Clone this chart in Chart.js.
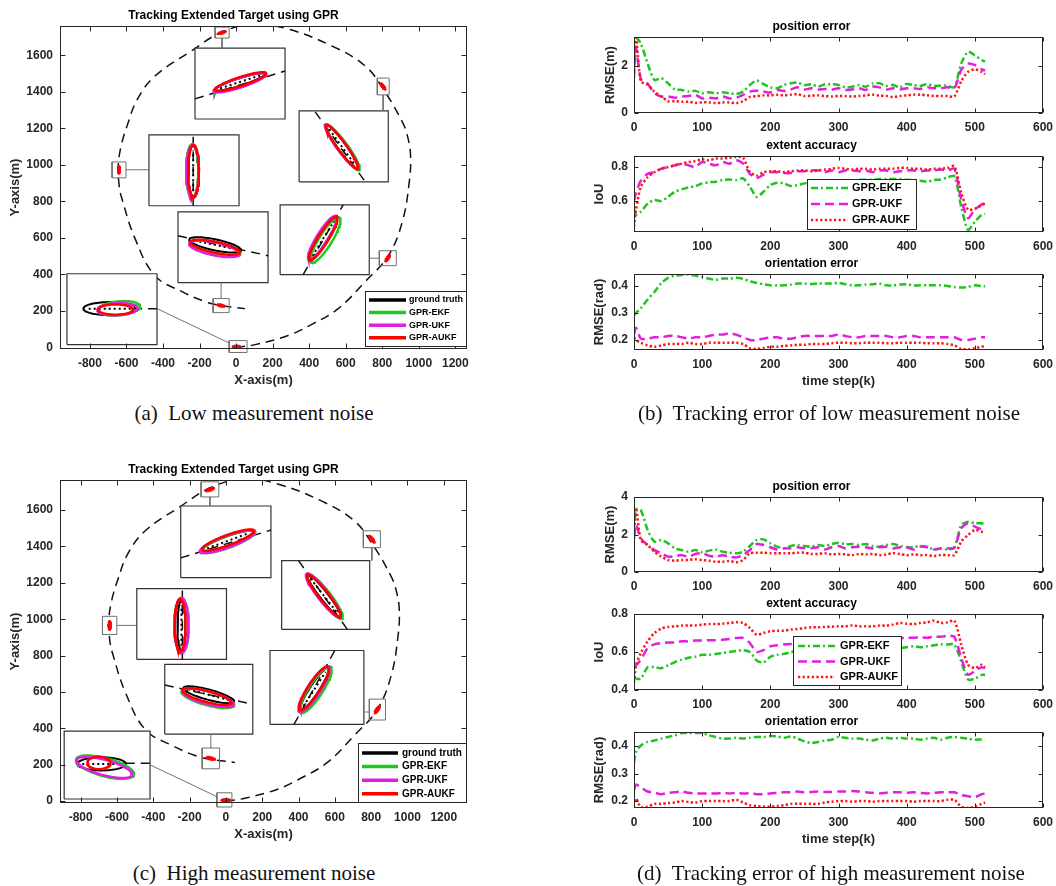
<!DOCTYPE html>
<html>
<head>
<meta charset="utf-8">
<script src="https://cdn.jsdelivr.net/npm/chart.js@4.4.0/dist/chart.umd.min.js"></script>
<style>
  body { margin: 0; background: #fff; width: 1056px; height: 886px; position: relative; overflow: hidden; }
  canvas { position: absolute; }
  .cap { position: absolute; font-family: "Liberation Serif", "Times New Roman", serif; font-size: 21px; line-height: 24px;
         color: #111; white-space: pre; transform: translateX(-50%); }
</style>
</head>
<body>
<canvas id="trackLow"  style="left:0px;top:0px"   width="480" height="396"></canvas>
<canvas id="trackHigh" style="left:0px;top:454px" width="480" height="396"></canvas>

<canvas id="lowPos"    style="left:580px;top:12px"  width="476" height="125"></canvas>
<canvas id="lowIou"    style="left:580px;top:131px" width="476" height="125"></canvas>
<canvas id="lowOri"    style="left:580px;top:249px" width="476" height="148"></canvas>
<canvas id="highPos"   style="left:580px;top:472px" width="476" height="124"></canvas>
<canvas id="highIou"   style="left:580px;top:589px" width="476" height="125"></canvas>
<canvas id="highOri"   style="left:580px;top:707px" width="476" height="148"></canvas>

<div class="cap" style="left:254px;top:401px">(a)  Low measurement noise</div>
<div class="cap" style="left:829px;top:401px">(b)  Tracking error of low measurement noise</div>
<div class="cap" style="left:254px;top:861px">(c)  High measurement noise</div>
<div class="cap" style="left:831px;top:861px">(d)  Tracking error of high measurement noise</div>

<script>
const FONT = '"Liberation Sans", Arial, Helvetica, sans-serif';
const AXIS = '#262626';

// ---------- tick labels ----------
const TRACK_X_TICKS = [-800, -600, -400, -200, 0, 200, 400, 600, 800, 1000, 1200];
const TRACK_Y_TICKS = [0, 200, 400, 600, 800, 1000, 1200, 1400, 1600];
const STEP_TICKS = [0, 100, 200, 300, 400, 500, 600];

// ---------- tracking plots (metres) ----------
const TRACK_X = [0, 104, 285, 420, 559, 707, 833, 910, 948, 955, 940, 910, 805, 707, 526, 285, 104, -77, -250, -444, -540, -597, -630, -645, -640, -625, -553, -444, -296, -170, -82, 49];
const TRACK_Y = [0, 16, 66, 130, 213, 361, 503, 689, 907, 1050, 1150, 1235, 1415, 1541, 1650, 1743, 1770, 1727, 1620, 1486, 1360, 1213, 1100, 995, 885, 814, 596, 393, 306, 251, 230, 213];

// order of the six zoom windows: top, upper right, left, middle, lower right, bottom left
const LOW_INSETS = [[-225, 268, 1251, 1639], [345, 833, 907, 1295], [-477, 16, 776, 1164], [-318, 175, 355, 743], [241, 729, 399, 781], [-926, -433, 16, 404]];
const LOW_INSET_TRACK = [[-225, 1361, 268, 1514], [433, 1290, 707, 907], [-235, 776, -235, 1164], [-318, 612, 175, 503], [367, 399, 586, 781], [-564, 213, -433, 213]];
const LOW_BOXES = [[-115, -38, 1694, 1754], [773, 838, 1383, 1475], [-679, -603, 929, 1016], [784, 877, 448, 530], [-126, -38, 191, 268], [-38, 60, -27, 38]];
const LOW_LINKS = [[-77, 1694, -77, 1639], [805, 1383, 805, 1295], [-603, 973, -477, 973], [784, 489, 729, 489], [-82, 268, -82, 355], [-38, 25, -433, 213]];
const LOW_MARKS = [[-77, 1724, 25, 9, 18], [805, 1429, 25, 9, -54], [-641, 973, 25, 9, 90], [830, 489, 25, 9, 58], [-82, 230, 25, 9, -12], [3, 5, 25, 9, 0]];
// ellipses [cx, cy, semi-major, semi-minor, angle deg]
const LOW_GT   = [[22, 1454, 144, 20, 18], [580, 1098, 150, 22, -54], [-235, 967, 140, 28, 90], [-115, 562, 145, 30, -12], [477, 596, 140, 22, 58], [-690, 213, 146, 36, 0]];
const LOW_EKF  = [[22, 1451, 148, 25, 18], [585, 1095, 152, 27, -54], [-240, 967, 146, 34, 90], [-115, 542, 140, 35, -12], [489, 588, 145, 35, 58], [-640, 215, 115, 38, 5]];
const LOW_UKF  = [[19, 1449, 150, 26, 18], [577, 1100, 150, 26, -54], [-238, 964, 144, 34, 90], [-120, 540, 140, 35, -12], [472, 601, 140, 30, 58], [-650, 210, 110, 33, 3]];
const LOW_AUKF = [[24, 1456, 148, 24, 18], [580, 1098, 148, 24, -54], [-233, 967, 142, 30, 90], [-115, 549, 138, 30, -12], [477, 596, 140, 28, 58], [-660, 208, 95, 28, 0]];

const HIGH_INSETS = [[-249, 248, 1228, 1622], [307, 792, 944, 1322], [-491, 3, 779, 1168], [-337, 148, 369, 752], [243, 760, 422, 828], [-891, -418, 12, 385]];
const HIGH_INSET_TRACK = [[-249, 1337, 248, 1490], [400, 1322, 669, 944], [-240, 779, -240, 1168], [-337, 638, 120, 539], [375, 422, 600, 828], [-552, 208, -418, 208]];
const HIGH_BOXES = [[-137, -39, 1672, 1755], [757, 851, 1393, 1486], [-680, -601, 916, 1016], [790, 879, 446, 561], [-131, -35, 178, 292], [-50, 33, -32, 46]];
const HIGH_LINKS = [[-88, 1672, -88, 1622], [804, 1393, 804, 1322], [-601, 966, -491, 966], [790, 490, 760, 490], [-83, 292, -83, 369], [-50, 25, -418, 200]];
const HIGH_MARKS = [[-88, 1713, 28, 10, 20], [804, 1440, 28, 10, -52], [-640, 966, 28, 10, 90], [834, 503, 28, 10, 57], [-83, 235, 28, 10, -15], [0, 5, 28, 10, 0]];
const HIGH_GT   = [[9, 1430, 150, 25, 20], [540, 1129, 150, 22, -52], [-245, 966, 140, 22, 90], [-95, 585, 145, 28, -15], [488, 616, 140, 25, 57], [-685, 205, 133, 36, 0]];
const HIGH_EKF  = [[12, 1425, 158, 32, 20], [545, 1125, 155, 32, -52], [-245, 966, 150, 40, 90], [-100, 565, 150, 38, -15], [495, 612, 150, 38, 57], [-666, 187, 165, 50, -15]];
const HIGH_UKF  = [[5, 1425, 158, 32, 20], [537, 1130, 152, 30, -52], [-245, 968, 150, 38, 90], [-98, 568, 145, 35, -15], [485, 615, 148, 36, 57], [-670, 185, 158, 42, -15]];
const HIGH_AUKF = [[12, 1435, 152, 28, 20], [540, 1128, 148, 26, -52], [-252, 968, 144, 30, 90], [-105, 575, 140, 30, -15], [485, 620, 142, 32, 57], [-700, 210, 64, 34, 0]];

// ---------- error curves ----------
const K = [0, 3, 10, 20, 30, 40, 50, 60, 70, 80, 90, 100, 110, 120, 130, 140, 150, 160, 170, 180, 190, 200,
  210, 220, 230, 240, 250, 260, 270, 280, 290, 300, 310, 320, 330, 340, 350, 360, 370, 380, 390, 400,
  410, 420, 430, 440, 450, 460, 470, 480, 490, 500, 510, 515];

const LOW_POS_EKF  = [1.9, 3.2, 2.95, 2.1, 1.4, 1.48, 1.26, 1.0, 0.98, 0.91, 0.94, 0.84, 0.88, 0.84, 0.88, 0.84, 0.81, 0.91, 1.19, 1.38, 1.23, 1.09, 1.05, 1.19, 1.26, 1.29, 1.19, 1.22, 1.12, 1.22, 1.22, 1.19, 1.09, 1.12, 1.19, 1.12, 1.26, 1.26, 1.15, 1.19, 1.09, 1.23, 1.19, 1.15, 1.23, 1.15, 1.16, 1.16, 1.09, 2.1, 2.6, 2.45, 2.25, 2.18];
const LOW_POS_UKF  = [1.5, 2.8, 1.45, 1.25, 0.84, 0.7, 0.7, 0.65, 0.7, 0.72, 0.77, 0.62, 0.65, 0.62, 0.7, 0.62, 0.65, 0.77, 0.91, 0.95, 0.91, 0.87, 0.98, 0.94, 1.0, 1.09, 1.0, 1.05, 1.0, 1.02, 1.0, 1.05, 0.98, 1.0, 1.05, 0.98, 1.12, 1.09, 1.0, 1.05, 1.0, 1.05, 1.05, 1.02, 1.09, 1.05, 1.05, 1.09, 1.05, 1.83, 2.1, 2.04, 1.86, 1.8];
const LOW_POS_AUKF = [2.0, 3.2, 1.35, 1.2, 0.9, 0.7, 0.5, 0.5, 0.48, 0.48, 0.43, 0.45, 0.45, 0.42, 0.45, 0.45, 0.42, 0.5, 0.68, 0.72, 0.75, 0.75, 0.78, 0.75, 0.78, 0.8, 0.72, 0.74, 0.75, 0.72, 0.7, 0.72, 0.72, 0.7, 0.72, 0.75, 0.78, 0.74, 0.72, 0.68, 0.72, 0.75, 0.78, 0.78, 0.75, 0.72, 0.72, 0.72, 0.7, 1.35, 1.75, 1.85, 1.75, 1.65];

const LOW_IOU_EKF  = [0.55, 0.52, 0.537, 0.586, 0.606, 0.6, 0.625, 0.655, 0.669, 0.68, 0.688, 0.704, 0.71, 0.714, 0.724, 0.727, 0.724, 0.733, 0.684, 0.625, 0.655, 0.694, 0.708, 0.704, 0.688, 0.694, 0.704, 0.71, 0.71, 0.715, 0.715, 0.72, 0.72, 0.72, 0.725, 0.725, 0.725, 0.73, 0.73, 0.73, 0.73, 0.725, 0.724, 0.72, 0.714, 0.724, 0.727, 0.739, 0.747, 0.567, 0.43, 0.478, 0.518, 0.524];
const LOW_IOU_UKF  = [0.6, 0.65, 0.72, 0.76, 0.77, 0.79, 0.8, 0.81, 0.82, 0.81, 0.8, 0.83, 0.82, 0.81, 0.83, 0.82, 0.84, 0.82, 0.76, 0.735, 0.755, 0.77, 0.77, 0.765, 0.765, 0.775, 0.775, 0.78, 0.78, 0.77, 0.78, 0.77, 0.78, 0.78, 0.775, 0.78, 0.77, 0.78, 0.78, 0.77, 0.775, 0.78, 0.78, 0.775, 0.78, 0.78, 0.785, 0.78, 0.79, 0.61, 0.5, 0.55, 0.58, 0.59];
const LOW_IOU_AUKF = [0.45, 0.55, 0.684, 0.74, 0.77, 0.79, 0.8, 0.81, 0.82, 0.83, 0.835, 0.845, 0.84, 0.85, 0.85, 0.855, 0.86, 0.855, 0.77, 0.75, 0.77, 0.775, 0.775, 0.77, 0.775, 0.78, 0.78, 0.775, 0.78, 0.785, 0.79, 0.795, 0.79, 0.785, 0.79, 0.79, 0.785, 0.79, 0.79, 0.79, 0.795, 0.795, 0.79, 0.79, 0.785, 0.79, 0.79, 0.795, 0.805, 0.65, 0.55, 0.555, 0.575, 0.585];

const LOW_ORI_EKF  = [0.29, 0.3, 0.317, 0.35, 0.378, 0.41, 0.43, 0.438, 0.44, 0.442, 0.438, 0.433, 0.427, 0.423, 0.427, 0.427, 0.43, 0.426, 0.417, 0.411, 0.406, 0.402, 0.402, 0.402, 0.405, 0.409, 0.409, 0.407, 0.409, 0.409, 0.409, 0.411, 0.406, 0.402, 0.402, 0.405, 0.406, 0.409, 0.402, 0.402, 0.405, 0.406, 0.402, 0.402, 0.402, 0.402, 0.402, 0.4, 0.396, 0.394, 0.396, 0.402, 0.399, 0.399];
const LOW_ORI_UKF  = [0.22, 0.245, 0.205, 0.205, 0.21, 0.21, 0.215, 0.215, 0.21, 0.205, 0.21, 0.21, 0.215, 0.22, 0.22, 0.225, 0.22, 0.21, 0.2, 0.2, 0.205, 0.21, 0.21, 0.205, 0.205, 0.21, 0.215, 0.215, 0.215, 0.215, 0.215, 0.22, 0.215, 0.21, 0.21, 0.215, 0.215, 0.215, 0.215, 0.21, 0.21, 0.215, 0.215, 0.21, 0.21, 0.21, 0.21, 0.21, 0.21, 0.2, 0.2, 0.205, 0.21, 0.21];
const LOW_ORI_AUKF = [0.21, 0.2, 0.19, 0.18, 0.175, 0.18, 0.185, 0.185, 0.185, 0.19, 0.185, 0.185, 0.19, 0.19, 0.19, 0.19, 0.19, 0.185, 0.17, 0.167, 0.17, 0.175, 0.175, 0.178, 0.18, 0.182, 0.182, 0.185, 0.185, 0.185, 0.188, 0.19, 0.19, 0.188, 0.188, 0.19, 0.19, 0.19, 0.188, 0.188, 0.19, 0.19, 0.19, 0.19, 0.188, 0.188, 0.188, 0.185, 0.18, 0.167, 0.165, 0.17, 0.175, 0.178];

const HIGH_POS_EKF  = [2.0, 3.35, 3.3, 2.24, 1.62, 1.7, 1.53, 1.26, 1.17, 1.08, 1.17, 1.05, 1.14, 1.2, 1.08, 1.03, 1.0, 1.08, 1.39, 1.7, 1.74, 1.53, 1.35, 1.26, 1.39, 1.44, 1.39, 1.35, 1.44, 1.39, 1.49, 1.56, 1.48, 1.49, 1.44, 1.49, 1.39, 1.35, 1.44, 1.49, 1.39, 1.32, 1.32, 1.39, 1.35, 1.2, 1.26, 1.2, 1.3, 2.5, 2.68, 2.6, 2.6, 2.54];
const HIGH_POS_UKF  = [1.8, 2.5, 1.8, 1.44, 1.17, 1.0, 0.82, 0.85, 0.9, 0.82, 0.96, 1.0, 0.87, 0.82, 0.9, 0.82, 0.78, 0.9, 1.17, 1.49, 1.44, 1.32, 1.2, 1.26, 1.26, 1.32, 1.26, 1.26, 1.32, 1.2, 1.32, 1.39, 1.26, 1.32, 1.35, 1.32, 1.26, 1.32, 1.35, 1.26, 1.32, 1.32, 1.2, 1.35, 1.32, 1.2, 1.26, 1.26, 1.3, 2.33, 2.6, 2.42, 2.28, 2.28];
const HIGH_POS_AUKF = [2.0, 3.4, 1.7, 1.44, 1.08, 0.82, 0.64, 0.6, 0.64, 0.64, 0.68, 0.64, 0.6, 0.55, 0.55, 0.59, 0.52, 0.64, 1.0, 1.03, 1.03, 1.0, 1.0, 1.0, 1.0, 1.03, 1.03, 0.96, 0.96, 1.0, 0.94, 0.96, 0.94, 0.9, 0.96, 0.94, 0.96, 0.9, 0.94, 1.0, 0.96, 0.9, 0.94, 0.9, 0.9, 0.85, 0.9, 0.9, 0.9, 1.62, 1.97, 2.24, 2.15, 2.1];

const HIGH_IOU_EKF  = [0.47, 0.46, 0.46, 0.52, 0.52, 0.515, 0.53, 0.547, 0.56, 0.57, 0.575, 0.585, 0.585, 0.59, 0.595, 0.6, 0.605, 0.61, 0.6, 0.555, 0.545, 0.575, 0.585, 0.59, 0.6, 0.605, 0.605, 0.61, 0.61, 0.61, 0.612, 0.615, 0.615, 0.615, 0.618, 0.618, 0.62, 0.62, 0.62, 0.62, 0.62, 0.625, 0.63, 0.625, 0.63, 0.635, 0.64, 0.64, 0.64, 0.55, 0.455, 0.46, 0.48, 0.48];
const HIGH_IOU_UKF  = [0.52, 0.53, 0.56, 0.62, 0.64, 0.647, 0.65, 0.65, 0.656, 0.656, 0.66, 0.66, 0.662, 0.662, 0.665, 0.668, 0.674, 0.674, 0.647, 0.6, 0.61, 0.63, 0.635, 0.64, 0.642, 0.646, 0.647, 0.65, 0.652, 0.655, 0.657, 0.66, 0.66, 0.662, 0.665, 0.665, 0.668, 0.668, 0.67, 0.67, 0.672, 0.675, 0.675, 0.678, 0.675, 0.68, 0.68, 0.685, 0.68, 0.57, 0.48, 0.5, 0.52, 0.515];
const HIGH_IOU_AUKF = [0.44, 0.53, 0.595, 0.656, 0.7, 0.723, 0.732, 0.735, 0.739, 0.74, 0.74, 0.744, 0.747, 0.747, 0.749, 0.753, 0.756, 0.753, 0.726, 0.691, 0.7, 0.709, 0.712, 0.712, 0.718, 0.721, 0.726, 0.73, 0.73, 0.732, 0.733, 0.735, 0.735, 0.74, 0.735, 0.735, 0.735, 0.739, 0.739, 0.744, 0.753, 0.749, 0.747, 0.753, 0.756, 0.765, 0.753, 0.756, 0.765, 0.64, 0.533, 0.516, 0.533, 0.52];

const HIGH_ORI_EKF  = [0.34, 0.38, 0.402, 0.415, 0.42, 0.427, 0.433, 0.439, 0.447, 0.447, 0.447, 0.447, 0.439, 0.433, 0.427, 0.427, 0.43, 0.427, 0.43, 0.433, 0.433, 0.436, 0.435, 0.43, 0.435, 0.427, 0.417, 0.411, 0.415, 0.42, 0.423, 0.433, 0.43, 0.427, 0.427, 0.423, 0.42, 0.427, 0.43, 0.427, 0.43, 0.427, 0.427, 0.423, 0.427, 0.43, 0.423, 0.43, 0.433, 0.43, 0.427, 0.423, 0.424, 0.423];
const HIGH_ORI_UKF  = [0.24, 0.26, 0.25, 0.235, 0.23, 0.225, 0.23, 0.232, 0.235, 0.23, 0.228, 0.228, 0.228, 0.228, 0.23, 0.228, 0.23, 0.228, 0.228, 0.225, 0.225, 0.228, 0.23, 0.232, 0.232, 0.235, 0.232, 0.233, 0.235, 0.233, 0.233, 0.235, 0.235, 0.237, 0.235, 0.232, 0.23, 0.228, 0.23, 0.232, 0.232, 0.23, 0.232, 0.23, 0.228, 0.23, 0.232, 0.232, 0.232, 0.222, 0.218, 0.215, 0.225, 0.228];
const HIGH_ORI_AUKF = [0.2, 0.21, 0.178, 0.18, 0.19, 0.19, 0.193, 0.195, 0.2, 0.197, 0.195, 0.2, 0.2, 0.2, 0.2, 0.2, 0.205, 0.195, 0.185, 0.182, 0.18, 0.18, 0.182, 0.185, 0.19, 0.19, 0.19, 0.19, 0.19, 0.195, 0.198, 0.2, 0.2, 0.198, 0.2, 0.2, 0.198, 0.2, 0.2, 0.2, 0.2, 0.2, 0.198, 0.2, 0.2, 0.2, 0.2, 0.205, 0.205, 0.18, 0.175, 0.18, 0.19, 0.195];

const METHODS = ['GPR-EKF', 'GPR-UKF', 'GPR-AUKF'];

// ---------- styles ----------
const TRACK_COLORS = { gt: '#000000', ekf: '#1fc81f', ukf: '#e21ee2', aukf: '#ff0000' };
const ERR_STYLE = [
  { color: '#1fc41f', dash: [7, 3, 2, 3] },
  { color: '#e21ee2', dash: [9, 5] },
  { color: '#ff1414', dash: [2.2, 2.4] }
];

// ---------- helpers ----------
function ellipse([cx, cy, a, b, deg]) {
  const t = deg * Math.PI / 180, c = Math.cos(t), s = Math.sin(t);
  const pts = [];
  for (let i = 0; i <= 72; i++) {
    const u = i / 72 * 2 * Math.PI;
    const ex = a * Math.cos(u), ey = b * Math.sin(u);
    pts.push({ x: cx + ex * c - ey * s, y: cy + ex * s + ey * c });
  }
  return pts;
}

function majorAxis([cx, cy, a, b, deg]) {
  const t = deg * Math.PI / 180, r = a * 0.8;
  return [{ x: cx - r * Math.cos(t), y: cy - r * Math.sin(t) }, { x: cx + r * Math.cos(t), y: cy + r * Math.sin(t) }];
}

const rect = ([x0, x1, y0, y1]) => [{ x: x0, y: y0 }, { x: x1, y: y0 }, { x: x1, y: y1 }, { x: x0, y: y1 }, { x: x0, y: y0 }];
const seg = ([x1, y1, x2, y2]) => [{ x: x1, y: y1 }, { x: x2, y: y2 }];
const fixedTicks = list => sc => { sc.ticks = list.map(v => ({ value: v })); };

function path(data, color, width, extra) {
  return Object.assign({ data, showLine: true, borderColor: color, borderWidth: width, pointRadius: 0, fill: false, tension: 0 }, extra);
}

function matlabAxes(len) {
  return {
    id: 'matlabAxes',
    afterDatasetsDraw(chart) {
      const { ctx, chartArea: a } = chart;
      const sx = chart.scales.x, sy = chart.scales.y;
      const L = Math.round(a.left) + 0.5, R = Math.round(a.right) - 0.5;
      const T = Math.round(a.top) + 0.5, B = Math.round(a.bottom) - 0.5;
      ctx.save();
      ctx.setLineDash([]);
      ctx.strokeStyle = AXIS;
      ctx.lineWidth = 1;
      ctx.strokeRect(L, T, R - L, B - T);
      ctx.beginPath();
      sx.ticks.forEach(t => {
        const p = Math.round(sx.getPixelForValue(t.value)) + 0.5;
        ctx.moveTo(p, B); ctx.lineTo(p, B - len);
        ctx.moveTo(p, T); ctx.lineTo(p, T + len);
      });
      sy.ticks.forEach(t => {
        const p = Math.round(sy.getPixelForValue(t.value)) + 0.5;
        ctx.moveTo(L, p); ctx.lineTo(L + len, p);
        ctx.moveTo(R, p); ctx.lineTo(R - len, p);
      });
      ctx.stroke();
      ctx.restore();
    }
  };
}

function boxLegend(cfg) {
  return {
    id: 'boxLegend',
    afterDraw(chart) {
      const ctx = chart.ctx;
      ctx.save();
      ctx.fillStyle = '#fff';
      ctx.fillRect(cfg.x, cfg.y, cfg.w, cfg.h);
      ctx.strokeStyle = AXIS;
      ctx.lineWidth = 1;
      ctx.strokeRect(cfg.x + 0.5, cfg.y + 0.5, cfg.w, cfg.h);
      ctx.font = `bold ${cfg.size}px ${FONT}`;
      ctx.textBaseline = 'middle';
      cfg.rows.forEach((r, i) => {
        const y = cfg.y + cfg.first + i * cfg.gap;
        ctx.strokeStyle = r.color;
        ctx.lineWidth = r.width;
        ctx.setLineDash(r.dash || []);
        ctx.beginPath();
        ctx.moveTo(cfg.x + cfg.s0, y);
        ctx.lineTo(cfg.x + cfg.s1, y);
        ctx.stroke();
        ctx.setLineDash([]);
        ctx.fillStyle = '#000';
        ctx.fillText(r.label, cfg.x + cfg.tx, y);
      });
      ctx.restore();
    }
  };
}

// ---------- tracking scene ----------
function trackLayers(s) {
  const layers = [];
  layers.push(path(TRACK_X.map((x, i) => ({ x, y: TRACK_Y[i] })), '#111', 1.5, { borderDash: [9, 6], tension: 0.4 }));
  s.insets.forEach(b => layers.push(path(rect(b), '#333', 1.2, { fill: 'shape', backgroundColor: '#ffffff' })));
  s.insetTrack.forEach(l => layers.push(path(seg(l), '#111', 1.5, { borderDash: [9, 6] })));
  s.gt.forEach(e => layers.push(path(ellipse(e), TRACK_COLORS.gt, 2)));
  s.gt.forEach(e => layers.push(path(majorAxis(e), '#000', 2, { borderDash: [2, 3] })));
  s.ekf.forEach(e => layers.push(path(ellipse(e), TRACK_COLORS.ekf, 2.5)));
  s.ukf.forEach(e => layers.push(path(ellipse(e), TRACK_COLORS.ukf, 2.5)));
  s.aukf.forEach(e => layers.push(path(ellipse(e), TRACK_COLORS.aukf, 2.5)));
  s.boxes.forEach(b => layers.push(path(rect(b), '#707070', 1, { clip: false })));
  s.marks.forEach(m => layers.push(path(ellipse(m), '#ff0000', 1, { fill: 'shape', backgroundColor: '#ff0000', clip: false })));
  s.links.forEach(l => layers.push(path(seg(l), '#707070', 1, { clip: false })));
  // painter's order: later layers on top
  layers.forEach((d, i) => { d.order = layers.length - i; });
  return layers;
}

function trackChart(id, s) {
  const tickFont = { family: FONT, size: 12, weight: 'bold' };
  const titleFont = { family: FONT, size: 13, weight: 'bold' };
  return new Chart(document.getElementById(id), {
    type: 'scatter',
    data: { datasets: trackLayers(s) },
    options: {
      responsive: false, animation: false, devicePixelRatio: 1,
      layout: { padding: { left: 0, right: 13, top: 0, bottom: 0 } },
      plugins: {
        legend: { display: false }, tooltip: { enabled: false },
        title: { display: true, text: 'Tracking Extended Target using GPR', color: '#000',
                 font: { family: FONT, size: 12, weight: 'bold' }, padding: { top: 8, bottom: 3.6 } }
      },
      scales: {
        x: {
          type: 'linear', min: s.xMin, max: s.xMax,
          grid: { display: false, drawTicks: false }, border: { display: false },
          afterBuildTicks: fixedTicks(TRACK_X_TICKS),
          ticks: { autoSkip: false, maxRotation: 0, padding: 7, color: AXIS, font: tickFont, callback: v => String(v) },
          title: { display: true, text: 'X-axis(m)', color: AXIS, font: titleFont, padding: { top: 0, bottom: 8.2 } },
          afterFit: sc => { sc.height = 47; sc.paddingLeft = 0; sc.paddingRight = 0; }
        },
        y: {
          type: 'linear', min: s.yMin, max: s.yMax,
          grid: { display: false, drawTicks: false }, border: { display: false },
          afterBuildTicks: fixedTicks(TRACK_Y_TICKS),
          ticks: { autoSkip: false, padding: 7, color: AXIS, font: tickFont, callback: v => String(v) },
          title: { display: true, text: 'Y-axis(m)', color: AXIS, font: titleFont, padding: { top: 7.2, bottom: 0 } },
          afterFit: sc => { sc.width = 60; sc.paddingTop = 0; sc.paddingBottom = 0; }
        }
      }
    },
    plugins: [matlabAxes(5), boxLegend(s.legend)]
  });
}

function trackLegend(x, y, w, h, first, gap, size, s1, tx) {
  return {
    x, y, w, h, first, gap, size, s0: 4, s1, tx,
    rows: [
      { label: 'ground truth', color: TRACK_COLORS.gt, width: 3.5 },
      { label: 'GPR-EKF', color: TRACK_COLORS.ekf, width: 3.5 },
      { label: 'GPR-UKF', color: TRACK_COLORS.ukf, width: 3.5 },
      { label: 'GPR-AUKF', color: TRACK_COLORS.aukf, width: 3.5 }
    ]
  };
}

trackChart('trackLow', {
  xMin: -964, xMax: 1264, yMin: -8, yMax: 1760,
  insets: LOW_INSETS, insetTrack: LOW_INSET_TRACK, boxes: LOW_BOXES, links: LOW_LINKS, marks: LOW_MARKS,
  gt: LOW_GT, ekf: LOW_EKF, ukf: LOW_UKF, aukf: LOW_AUKF,
  legend: trackLegend(365, 291, 101, 55, 9, 12.6, 9, 41, 44)
});
trackChart('trackHigh', {
  xMin: -914, xMax: 1328, yMin: -10, yMax: 1765,
  insets: HIGH_INSETS, insetTrack: HIGH_INSET_TRACK, boxes: HIGH_BOXES, links: HIGH_LINKS, marks: HIGH_MARKS,
  gt: HIGH_GT, ekf: HIGH_EKF, ukf: HIGH_UKF, aukf: HIGH_AUKF,
  legend: trackLegend(358, 289, 108, 59, 10, 13.6, 10, 40, 44)
});

// ---------- error subplots ----------
function errorChart(id, p) {
  const tickFont = { family: FONT, size: 12, weight: 'bold' };
  const titleFont = { family: FONT, size: 13, weight: 'bold' };
  const datasets = p.series.map((vals, i) => ({
    label: METHODS[i],
    data: K.map((k, j) => ({ x: k, y: vals[j] })),
    showLine: true, pointRadius: 0, fill: false, tension: 0.25,
    borderColor: ERR_STYLE[i].color, borderDash: ERR_STYLE[i].dash, borderWidth: 2.5,
    order: 3 - i
  }));
  const plugins = [matlabAxes(4)];
  if (p.legend) plugins.push(boxLegend(p.legend));
  return new Chart(document.getElementById(id), {
    type: 'scatter',
    data: { datasets },
    options: {
      responsive: false, animation: false, devicePixelRatio: 1,
      layout: { padding: { left: 0, right: 13, top: 0, bottom: 0 } },
      plugins: {
        legend: { display: false }, tooltip: { enabled: false },
        title: { display: true, text: p.title, color: '#000', font: { family: FONT, size: 12, weight: 'bold' },
                 padding: { top: 7.3, bottom: 3.3 } }
      },
      scales: {
        x: {
          type: 'linear', min: 0, max: 600,
          grid: { display: false, drawTicks: false }, border: { display: false },
          afterBuildTicks: fixedTicks(STEP_TICKS),
          ticks: { autoSkip: false, maxRotation: 0, padding: 7, color: AXIS, font: tickFont, callback: v => String(v) },
          title: { display: !!p.xTitle, text: 'time step(k)', color: AXIS, font: titleFont, padding: { top: 0, bottom: 7.5 } },
          afterFit: sc => { sc.height = p.xTitle ? 47 : 24; sc.paddingLeft = 0; sc.paddingRight = 0; }
        },
        y: {
          type: 'linear', min: p.yMin, max: p.yMax,
          grid: { display: false, drawTicks: false }, border: { display: false },
          afterBuildTicks: fixedTicks(p.ticks),
          ticks: { autoSkip: false, padding: 6, color: AXIS, font: tickFont, callback: v => v.toFixed(p.digits) },
          title: { display: true, text: p.yTitle, color: AXIS, font: titleFont, padding: { top: p.yTitlePad, bottom: 0 } },
          afterFit: sc => { sc.width = 54; sc.paddingTop = 0; sc.paddingBottom = 0; }
        }
      }
    },
    plugins
  });
}

function errLegend(x, y, w, h, first, gap, s0, s1, tx) {
  return {
    x, y, w, h, first, gap, size: 11, s0, s1, tx,
    rows: METHODS.map((m, i) => ({ label: m, color: ERR_STYLE[i].color, dash: ERR_STYLE[i].dash, width: 2.5 }))
  };
}

errorChart('lowPos', { series: [LOW_POS_EKF, LOW_POS_UKF, LOW_POS_AUKF], yMin: 0, yMax: 3.23, ticks: [0, 2], digits: 0,
  title: 'position error', yTitle: 'RMSE(m)', yTitlePad: 22.2 });
errorChart('lowIou', { series: [LOW_IOU_EKF, LOW_IOU_UKF, LOW_IOU_AUKF], yMin: 0.418, yMax: 0.865, ticks: [0.6, 0.8], digits: 1,
  title: 'extent accuracy', yTitle: 'IoU', yTitlePad: 11.2, legend: errLegend(227, 48, 109, 50, 9, 16, 4, 41, 45) });
errorChart('lowOri', { series: [LOW_ORI_EKF, LOW_ORI_UKF, LOW_ORI_AUKF], yMin: 0.163, yMax: 0.444, ticks: [0.2, 0.3, 0.4], digits: 1,
  title: 'orientation error', yTitle: 'RMSE(rad)', yTitlePad: 11.2, xTitle: true });

errorChart('highPos', { series: [HIGH_POS_EKF, HIGH_POS_UKF, HIGH_POS_AUKF], yMin: 0, yMax: 4, ticks: [0, 2, 4], digits: 0,
  title: 'position error', yTitle: 'RMSE(m)', yTitlePad: 22.2 });
errorChart('highIou', { series: [HIGH_IOU_EKF, HIGH_IOU_UKF, HIGH_IOU_AUKF], yMin: 0.4, yMax: 0.8, ticks: [0.4, 0.6, 0.8], digits: 1,
  title: 'extent accuracy', yTitle: 'IoU', yTitlePad: 11.2, legend: errLegend(213, 47, 108, 49, 10, 15.5, 5, 42, 47) });
errorChart('highOri', { series: [HIGH_ORI_EKF, HIGH_ORI_UKF, HIGH_ORI_AUKF], yMin: 0.175, yMax: 0.451, ticks: [0.2, 0.3, 0.4], digits: 1,
  title: 'orientation error', yTitle: 'RMSE(rad)', yTitlePad: 11.2, xTitle: true });
</script>
</body>
</html>
